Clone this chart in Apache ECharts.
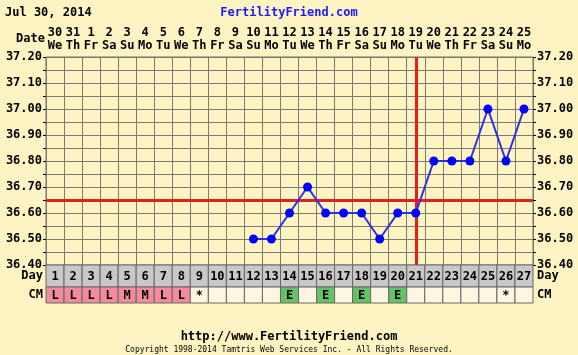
<!DOCTYPE html>
<html>
<head>
<meta charset="utf-8">
<script src="https://cdn.jsdelivr.net/npm/echarts@6/dist/echarts.min.js"></script>
<style>
html,body{margin:0;padding:0;background:#fdf3c3;}
#chart{width:578px;height:355px;}
</style>
</head>
<body>
<div id="chart"></div>
<script>
var cycleDays = ['1','2','3','4','5','6','7','8','9','10','11','12','13','14','15','16','17','18','19','20','21','22','23','24','25','26','27'];
var dateNums = ['30','31','1','2','3','4','5','6','7','8','9','10','11','12','13','14','15','16','17','18','19','20','21','22','23','24','25'];
var weekDays = ['We','Th','Fr','Sa','Su','Mo','Tu','We','Th','Fr','Sa','Su','Mo','Tu','We','Th','Fr','Sa','Su','Mo','Tu','We','Th','Fr','Sa','Su','Mo'];
var temps = [null,null,null,null,null,null,null,null,null,null,null,36.50,36.50,36.60,36.70,36.60,36.60,36.60,36.50,36.60,36.60,36.80,36.80,36.80,37.00,36.80,37.00];
var cm = ['L','L','L','L','M','M','L','L','*','','','','','E','','E','','E','','E','','','','','','*',''];
var coverline = 36.65;
var ovulationDay = '21';

var FONT = 'DejaVu Sans Mono';
var cmColors = { L: '#f28b9e', M: '#f28b9e', E: '#66c266' };

function cellRender(fill, textOf) {
    return function (params, api) {
        var i = api.value(0);
        var c = api.coord([i, 0]);
        var s = api.size([1, 1]);
        var txt = textOf(params.dataIndex);
        return {
            type: 'group',
            children: [{
                type: 'rect',
                shape: { x: c[0] - s[0] / 2, y: c[1] - s[1] / 2, width: s[0], height: s[1] },
                style: { fill: fill(params.dataIndex), stroke: '#666', lineWidth: 1 }
            }, {
                type: 'text',
                style: {
                    x: c[0], y: c[1] + 1, text: txt, align: 'center', verticalAlign: 'middle',
                    font: 'bold 12px "' + FONT + '"', fill: '#000'
                }
            }]
        };
    };
}

var labelFmt = function (v) {
    var h = Math.round(v * 100);
    return h % 10 === 0 ? (h / 100).toFixed(2) : '';
};

var chart = echarts.init(document.getElementById('chart'));
var option = {
    backgroundColor: '#fdf3c3',
    animation: false,
    textStyle: { fontFamily: FONT },
    title: [
        { text: 'Jul 30, 2014', left: 0, top: 2, textStyle: { fontSize: 12, fontWeight: 'bold', color: '#000', fontFamily: FONT } },
        { text: 'FertilityFriend.com', left: 'center', top: 2, textStyle: { fontSize: 12, fontWeight: 'bold', color: '#1a1aff', fontFamily: FONT } },
        { text: 'Date', left: 11, top: 28, textStyle: { fontSize: 12, fontWeight: 'bold', color: '#000', fontFamily: FONT } },
        { text: 'http://www.FertilityFriend.com', left: 'center', top: 326, textStyle: { fontSize: 12, fontWeight: 'bold', color: '#000', fontFamily: FONT } },
        { text: 'Copyright 1998-2014 Tamtris Web Services Inc. - All Rights Reserved.', left: 'center', top: 341, textStyle: { fontSize: 8, fontWeight: 'normal', color: '#000', fontFamily: FONT } }
    ],
    grid: [
        { left: 46, right: 45, top: 57, height: 208, show: true, backgroundColor: '#fdf3c3', borderColor: '#707070', borderWidth: 1 },
        { left: 46, right: 45, top: 265, height: 22 },
        { left: 46, right: 45, top: 287, height: 16 }
    ],
    xAxis: [{
        gridIndex: 0, type: 'category', data: cycleDays, boundaryGap: true,
        axisLine: { show: false }, axisTick: { show: false }, axisLabel: { show: false },
        splitLine: { show: true, interval: 0, lineStyle: { color: '#7a7a70', width: 1 } }
    }, {
        gridIndex: 0, type: 'category', position: 'top', boundaryGap: true,
        data: dateNums.map(function (d, i) { return d + '\n' + weekDays[i]; }),
        axisLine: { show: false }, axisTick: { show: false },
        axisLabel: { interval: 0, margin: 5, fontSize: 12, fontWeight: 'bold', color: '#000', lineHeight: 13, fontFamily: FONT }
    }, {
        gridIndex: 1, type: 'category', data: cycleDays, show: false
    }, {
        gridIndex: 2, type: 'category', data: cycleDays, show: false
    }],
    yAxis: [{
        gridIndex: 0, type: 'value', min: 36.4, max: 37.2, interval: 0.05, position: 'left',
        axisLine: { show: false }, axisTick: { show: true, length: 3, lineStyle: { color: '#000' } },
        axisLabel: { margin: 4, fontSize: 12, fontWeight: 'bold', color: '#000', fontFamily: FONT, formatter: labelFmt },
        splitLine: { show: true, lineStyle: { color: '#7a7a70', width: 1 } }
    }, {
        gridIndex: 0, type: 'value', min: 36.4, max: 37.2, interval: 0.05, position: 'right',
        axisLine: { show: false }, axisTick: { show: true, length: 3, lineStyle: { color: '#000' } },
        axisLabel: { margin: 4, fontSize: 12, fontWeight: 'bold', color: '#000', fontFamily: FONT, formatter: labelFmt },
        splitLine: { show: false }
    }, {
        gridIndex: 1, type: 'category', data: ['Day'], position: 'left',
        axisLine: { show: false }, axisTick: { show: false },
        axisLabel: { margin: 3, fontSize: 12, fontWeight: 'bold', color: '#000', fontFamily: FONT }
    }, {
        gridIndex: 1, type: 'category', data: ['Day'], position: 'right',
        axisLine: { show: false }, axisTick: { show: false },
        axisLabel: { margin: 4, fontSize: 12, fontWeight: 'bold', color: '#000', fontFamily: FONT }
    }, {
        gridIndex: 2, type: 'category', data: ['CM'], position: 'left',
        axisLine: { show: false }, axisTick: { show: false },
        axisLabel: { margin: 3, fontSize: 12, fontWeight: 'bold', color: '#000', fontFamily: FONT }
    }, {
        gridIndex: 2, type: 'category', data: ['CM'], position: 'right',
        axisLine: { show: false }, axisTick: { show: false },
        axisLabel: { margin: 4, fontSize: 12, fontWeight: 'bold', color: '#000', fontFamily: FONT }
    }],
    series: [{
        type: 'line', xAxisIndex: 0, yAxisIndex: 0, data: temps,
        symbol: 'circle', symbolSize: 9, connectNulls: false,
        lineStyle: { color: '#2f2fe0', width: 2 },
        itemStyle: { color: '#0000ff' },
        markLine: {
            silent: true, symbol: 'none', label: { show: false },
            data: [
                { yAxis: coverline, lineStyle: { color: '#e02020', width: 3, type: 'solid' } },
                { xAxis: ovulationDay, lineStyle: { color: '#e02020', width: 3, type: 'solid' } }
            ]
        },
        z: 5
    }, {
        type: 'custom', xAxisIndex: 2, yAxisIndex: 2,
        data: cycleDays.map(function (d, i) { return [i, 0]; }),
        renderItem: cellRender(function () { return '#c8c8c8'; }, function (i) { return cycleDays[i]; })
    }, {
        type: 'custom', xAxisIndex: 3, yAxisIndex: 4,
        data: cm.map(function (c, i) { return [i, 0]; }),
        renderItem: cellRender(function (i) { return cmColors[cm[i]] || '#fdf6e0'; }, function (i) { return cm[i]; })
    }]
};
chart.setOption(option);
</script>
</body>
</html>
